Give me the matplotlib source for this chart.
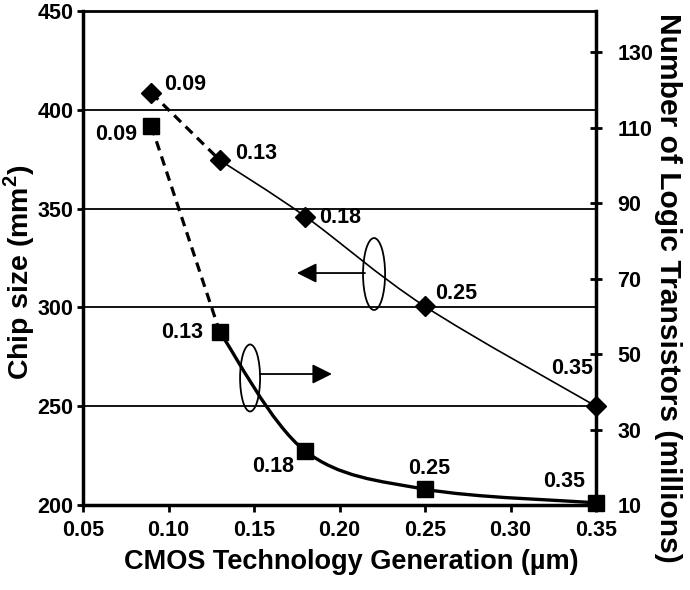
import matplotlib
matplotlib.use("Agg")
import matplotlib.pyplot as plt
from matplotlib.path import Path
from matplotlib.patches import PathPatch, Ellipse

plt.rcParams['font.family'] = ['Liberation Sans', 'DejaVu Sans']
plt.rcParams['font.weight'] = 'bold'
plt.rcParams['mathtext.fontset'] = 'custom'
plt.rcParams['mathtext.bf'] = 'Liberation Sans:bold'
plt.rcParams['mathtext.rm'] = 'Liberation Sans:bold'

# data
gen = [0.09, 0.13, 0.18, 0.25, 0.35]
chip_size = [408.5, 374.5, 346, 300.5, 250]
transistors = [110.4, 55.8, 24.3, 14.2, 10.6]
gen_labels = ["0.09", "0.13", "0.18", "0.25", "0.35"]

x_ticks = [0.05, 0.10, 0.15, 0.20, 0.25, 0.30, 0.35]
left_ticks = [200, 250, 300, 350, 400, 450]
right_ticks = [10, 30, 50, 70, 90, 110, 130]

# label offsets (points) for each point
chip_off = [(9, 6, 'left'), (11, 5, 'left'), (10, -1, 'left'), (7, 9, 'left'), (-2, 27, 'right')]
tr_off = [(-10, -6, 'right'), (-12, 0, 'right'), (-8, -11, 'right'), (3, 15, 'center'), (-8, 15, 'right')]


def smooth_path(xs, ys):
    verts = [(xs[0], ys[0])]
    codes = [Path.MOVETO]
    n = len(xs)
    for i in range(n - 1):
        a = i - 1 if i > 0 else i
        b = i + 2 if i + 2 < n else i + 1
        c1 = (xs[i] + (xs[i + 1] - xs[a]) / 6, ys[i] + (ys[i + 1] - ys[a]) / 6)
        c2 = (xs[i + 1] - (xs[b] - xs[i]) / 6, ys[i + 1] - (ys[b] - ys[i]) / 6)
        verts += [c1, c2, (xs[i + 1], ys[i + 1])]
        codes += [Path.CURVE4] * 3
    return Path(verts, codes)


fig = plt.figure(figsize=(6.9, 5.9), dpi=100)
ax = fig.add_axes([0.1203, 0.144, 0.7435, 0.8374])
ax2 = ax.twinx()

ax.set_xlim(0.05, 0.35)
ax.set_ylim(200, 450)
ax2.set_ylim(10, 140.9)

ax.set_xticks(x_ticks)
ax.set_xticklabels(["%.2f" % v for v in x_ticks])
ax.set_yticks(left_ticks)
ax2.set_yticks(right_ticks)

ax.grid(axis='y', color='black', lw=1.3)
ax.set_axisbelow(True)

for s in ax.spines.values():
    s.set_linewidth(2)
ax.spines['left'].set_linewidth(2.5)
ax.spines['bottom'].set_linewidth(2.5)
ax2.spines['right'].set_linewidth(2.5)
for s in ['left', 'top', 'bottom']:
    ax2.spines[s].set_visible(False)

ax.tick_params(axis='x', direction='out', length=5, width=2, pad=6, labelsize=15.5)
ax.tick_params(axis='y', direction='out', length=4, width=2, pad=3, labelsize=15.5)
ax2.tick_params(axis='y', direction='inout', length=9, width=2, pad=11, labelsize=15.5)

# chip size (diamonds, left axis)
ax.plot(gen[:2], chip_size[:2], color='black', lw=2.3, dashes=(3, 2))
ax.add_patch(PathPatch(smooth_path(gen[1:], chip_size[1:]), fill=False,
                       lw=1.2, color='black', clip_on=False))
ax.plot(gen, chip_size, 'D', color='black', ms=10, clip_on=False, zorder=5)

# transistors (squares, right axis)
ax2.plot(gen[:2], transistors[:2], color='black', lw=2.3, dashes=(3, 2))
ax2.add_patch(PathPatch(smooth_path(gen[1:], transistors[1:]), fill=False,
                        lw=2.4, color='black', clip_on=False))
ax2.plot(gen, transistors, 's', color='black', ms=11, clip_on=False, zorder=5)

for i, lab in enumerate(gen_labels):
    dx, dy, ha = chip_off[i]
    ax.annotate(lab, (gen[i], chip_size[i]), xytext=(dx, dy), textcoords='offset points',
                ha=ha, va='center', fontsize=15.5, fontweight='bold')
    dx, dy, ha = tr_off[i]
    ax2.annotate(lab, (gen[i], transistors[i]), xytext=(dx, dy), textcoords='offset points',
                 ha=ha, va='center', fontsize=15.5, fontweight='bold')

# ellipses and arrows marking which axis each curve uses
arrow = dict(arrowstyle='-|>', lw=1.3, color='black', mutation_scale=30,
             shrinkA=0, shrinkB=0)
ax.add_patch(Ellipse((0.2202, 316.9), 0.0129, 36.4, fill=False, lw=1.3, color='black'))
ax.annotate("", xy=(0.1751, 317.4), xytext=(0.2149, 317.4), arrowprops=arrow)
ax.add_patch(Ellipse((0.1477, 264.3), 0.0117, 33.9, fill=False, lw=1.3, color='black'))
ax.annotate("", xy=(0.1956, 266.3), xytext=(0.1535, 266.3), arrowprops=arrow)

ax.set_xlabel("CMOS Technology Generation (µm)", fontsize=19.5, fontweight='bold')
ax.set_ylabel(r"Chip size (mm$^{\mathbf{2}}$)", fontsize=20.5, fontweight='bold')
ax2.set_ylabel("Number of Logic Transistors (millions)", fontsize=21.6, fontweight='bold',
               rotation=-90)
ax.xaxis.label.set_va('center')
ax.yaxis.label.set_va('center')
ax2.yaxis.label.set_va('center')
ax.xaxis.set_label_coords(0.523, -0.115)
ax.yaxis.set_label_coords(-0.124, 0.472)
ax2.yaxis.set_label_coords(1.14, 0.44)

fig.savefig("out.png", dpi=100)
